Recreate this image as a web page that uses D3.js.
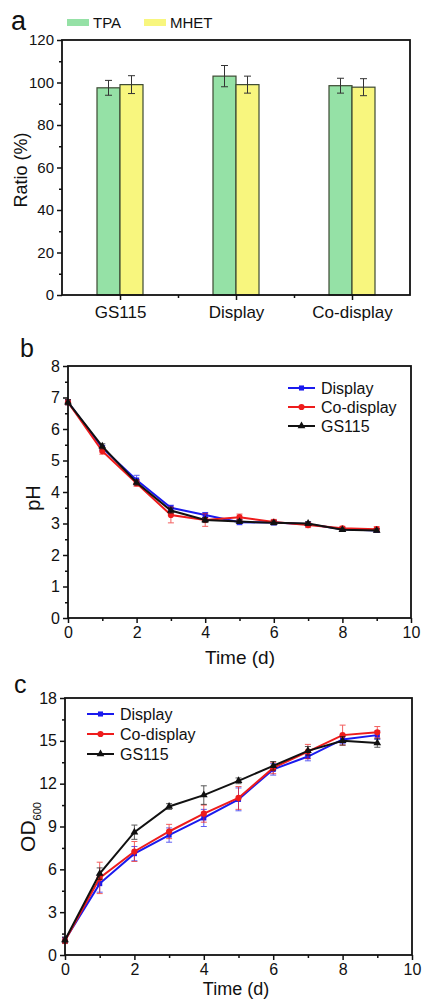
<!DOCTYPE html>
<html>
<head>
<meta charset="utf-8">
<script src="https://cdn.jsdelivr.net/npm/d3@7"></script>
<style>
  body { margin: 0; background: #fff; }
  text { font-family: "Liberation Sans", Arial, sans-serif; fill: #111; }
</style>
</head>
<body>
<div class="container"></div>
<script>
// panel a data
const categories = ["GS115", "Display", "Co-display"];
const barSeries = ["TPA", "MHET"];
const tpaValues = [97.5, 103, 98.5];
const tpaErrors = [3.5, 5, 3.5];
const mhetValues = [99, 99, 97.8];
const mhetErrors = [4.2, 4, 4];
const ratioTicks = [0, 20, 40, 60, 80, 100, 120];

// panel b / c data
const days = [0, 1, 2, 3, 4, 5, 6, 7, 8, 9];
const phDisplay = [6.85, 5.4, 4.38, 3.5, 3.27, 3.04, 3.03, 2.98, 2.82, 2.78];
const phDisplayErr = [0.08, 0.08, 0.15, 0.08, 0.08, 0.08, 0.08, 0.06, 0.06, 0.06];
const phCoDisplay = [6.85, 5.3, 4.28, 3.27, 3.11, 3.2, 3.05, 2.95, 2.85, 2.82];
const phCoDisplayErr = [0.08, 0.1, 0.1, 0.25, 0.2, 0.1, 0.08, 0.08, 0.06, 0.08];
const phGS115 = [6.85, 5.45, 4.3, 3.41, 3.11, 3.06, 3.02, 3.0, 2.8, 2.78];
const phGS115Err = [0.08, 0.08, 0.08, 0.08, 0.08, 0.06, 0.06, 0.06, 0.05, 0.05];

const odDisplay = [1.05, 5.0, 7.1, 8.4, 9.6, 10.9, 13.0, 13.9, 15.1, 15.4];
const odDisplayErr = [0.2, 0.6, 0.5, 0.5, 0.6, 0.8, 0.4, 0.3, 0.3, 0.3];
const odCoDisplay = [1.0, 5.4, 7.25, 8.65, 9.9, 11.0, 13.1, 14.25, 15.4, 15.6];
const odCoDisplayErr = [0.2, 1.1, 0.7, 0.5, 0.6, 0.8, 0.4, 0.5, 0.7, 0.4];
const odGS115 = [1.05, 5.7, 8.6, 10.4, 11.2, 12.2, 13.25, 14.3, 15.0, 14.85];
const odGS115Err = [0.2, 0.4, 0.5, 0.2, 0.65, 0.2, 0.3, 0.3, 0.3, 0.3];

const lineNames = ["Display", "Co-display", "GS115"];
const lineColors = ["#1a1aee", "#ee1c1c", "#111111"];
const lineSymbols = [d3.symbolSquare, d3.symbolCircle, d3.symbolTriangle];

const width = 422;
const height = 1001;

const svg = d3.select(".container")
  .append("svg")
  .attr("width", width)
  .attr("height", height)
  .attr("viewBox", [0, 0, width, height]);

// draws a box frame with outward ticks on left and bottom
function drawFrame(g, x, y, xTicks, xMinor, yTicks, yMinor, fs) {
  const [x0, x1] = x.range();
  const [y0, y1] = y.range();
  g.append("g")
    .attr("transform", `translate(0,${y0})`)
    .call(d3.axisBottom(x).tickValues(xMinor).tickSize(3).tickFormat(""))
    .call(a => a.select(".domain").remove());
  g.append("g")
    .attr("transform", `translate(${x0},0)`)
    .call(d3.axisLeft(y).tickValues(yMinor).tickSize(3).tickFormat(""))
    .call(a => a.select(".domain").remove());
  g.append("g")
    .attr("class", "xax")
    .attr("transform", `translate(0,${y0})`)
    .call(d3.axisBottom(x).tickValues(xTicks).tickSize(5).tickPadding(4))
    .call(a => a.select(".domain").remove())
    .attr("font-size", fs.x + "px");
  g.append("g")
    .attr("transform", `translate(${x0},0)`)
    .call(d3.axisLeft(y).tickValues(yTicks).tickSize(5).tickPadding(3))
    .call(a => a.select(".domain").remove())
    .attr("font-size", fs.y + "px");
  g.selectAll(".tick line").attr("stroke", "#111").attr("stroke-width", 1.5);
  g.selectAll("text").attr("font-family", "Liberation Sans, Arial, sans-serif").attr("fill", "#222");
  g.append("rect")
    .attr("x", x0).attr("y", y1)
    .attr("width", x1 - x0).attr("height", y0 - y1)
    .attr("fill", "none").attr("stroke", "#111").attr("stroke-width", 1.8);
}

// ---------- panel a ----------
const ga = svg.append("g");
const xA = d3.scaleBand().domain(categories).range([62, 410]).padding(0);
const xSub = d3.scaleBand().domain(barSeries).range([-23, 23]);
const yA = d3.scaleLinear().domain([0, 120]).range([295, 40]);
const barColors = { TPA: "#95e1a6", MHET: "#f8f67e" };

const barData = [];
categories.forEach((c, i) => {
  barData.push({ cat: c, s: "TPA", v: tpaValues[i], e: tpaErrors[i] });
  barData.push({ cat: c, s: "MHET", v: mhetValues[i], e: mhetErrors[i] });
});

ga.append("g").selectAll("rect")
  .data(barData)
  .join("rect")
  .attr("x", d => xA(d.cat) + xA.bandwidth() / 2 + xSub(d.s))
  .attr("y", d => yA(d.v))
  .attr("width", xSub.bandwidth())
  .attr("height", d => yA(0) - yA(d.v))
  .attr("fill", d => barColors[d.s])
  .attr("stroke", "#3d4a33")
  .attr("stroke-width", 1.2);

const errA = ga.append("g").attr("stroke", "#333").attr("stroke-width", 1);
barData.forEach(d => {
  const cx = xA(d.cat) + xA.bandwidth() / 2 + xSub(d.s) + xSub.bandwidth() / 2;
  errA.append("line").attr("x1", cx).attr("x2", cx).attr("y1", yA(d.v - d.e)).attr("y2", yA(d.v + d.e));
  errA.append("line").attr("x1", cx - 3.5).attr("x2", cx + 3.5).attr("y1", yA(d.v - d.e)).attr("y2", yA(d.v - d.e));
  errA.append("line").attr("x1", cx - 3.5).attr("x2", cx + 3.5).attr("y1", yA(d.v + d.e)).attr("y2", yA(d.v + d.e));
});

// frame for a: category ticks + minor between
const xPos = d3.scaleLinear().domain([0, 3]).range([62, 410]);
drawFrame(ga, xPos, yA, [0.5, 1.5, 2.5], [1, 2], ratioTicks, d3.range(10, 120, 20), { x: 17, y: 15 });
ga.select(".xax").selectAll(".tick text").text((d, i) => categories[i]).attr("dy", "0.85em");

ga.append("text").attr("transform", "translate(27,170) rotate(-90)")
  .attr("text-anchor", "middle").attr("font-size", 18).text("Ratio (%)");
ga.append("text").attr("x", 11).attr("y", 30).attr("font-size", 27).text("a");

const legA = ga.append("g");
barSeries.forEach((s, i) => {
  const lx = [67, 144][i];
  legA.append("rect").attr("x", lx).attr("y", 19).attr("width", 22).attr("height", 7).attr("fill", barColors[s]);
  legA.append("text").attr("x", lx + 26).attr("y", 28).attr("font-size", 15).text(s);
});

// ---------- line panels ----------
function linePanel(g, x, y, series, errs, legendPos) {
  const line = d3.line().x((d, i) => x(days[i])).y(d => y(d));
  series.forEach((vals, k) => {
    const color = lineColors[k];
    const eg = g.append("g").attr("stroke", color).attr("stroke-width", 1).attr("opacity", 0.7);
    vals.forEach((v, i) => {
      const cx = x(days[i]);
      const lo = y(v - errs[k][i]), hi = y(v + errs[k][i]);
      eg.append("line").attr("x1", cx).attr("x2", cx).attr("y1", lo).attr("y2", hi);
      eg.append("line").attr("x1", cx - 3).attr("x2", cx + 3).attr("y1", lo).attr("y2", lo);
      eg.append("line").attr("x1", cx - 3).attr("x2", cx + 3).attr("y1", hi).attr("y2", hi);
    });
    g.append("path").datum(vals).attr("d", line)
      .attr("fill", "none").attr("stroke", color).attr("stroke-width", 2);
    g.append("g").selectAll("path")
      .data(vals)
      .join("path")
      .attr("transform", (d, i) => `translate(${x(days[i])},${y(d)})`)
      .attr("d", d3.symbol().type(lineSymbols[k]).size(k === 1 ? 30 : 26))
      .attr("fill", color);
  });
  const leg = g.append("g");
  lineNames.forEach((n, k) => {
    const ly = legendPos.y + k * legendPos.dy;
    leg.append("line").attr("x1", legendPos.x).attr("x2", legendPos.x + 27)
      .attr("y1", ly).attr("y2", ly).attr("stroke", lineColors[k]).attr("stroke-width", 2);
    leg.append("path").attr("transform", `translate(${legendPos.x + 13.5},${ly})`)
      .attr("d", d3.symbol().type(lineSymbols[k]).size(k === 1 ? 30 : 26)).attr("fill", lineColors[k]);
    leg.append("text").attr("x", legendPos.x + 33).attr("y", ly + 6).attr("font-size", 16).text(n);
  });
}

// panel b
const gb = svg.append("g");
const xB = d3.scaleLinear().domain([0, 10]).range([68, 411]);
const yB = d3.scaleLinear().domain([0, 8]).range([618, 366]);
linePanel(gb, xB, yB, [phDisplay, phCoDisplay, phGS115], [phDisplayErr, phCoDisplayErr, phGS115Err], { x: 288, y: 388, dy: 19 });
drawFrame(gb, xB, yB, [0, 2, 4, 6, 8, 10], [1, 3, 5, 7, 9], d3.range(0, 9), d3.range(0.5, 8, 1), { x: 16, y: 16 });
gb.append("text").attr("x", 20).attr("y", 357).attr("font-size", 25).text("b");
gb.append("text").attr("transform", "translate(40,498) rotate(-90)")
  .attr("text-anchor", "middle").attr("font-size", 20).text("pH");
gb.append("text").attr("x", 240).attr("y", 664).attr("text-anchor", "middle").attr("font-size", 19).text("Time (d)");

// panel c
const gc = svg.append("g");
const xC = d3.scaleLinear().domain([0, 10]).range([65, 412]);
const yC = d3.scaleLinear().domain([0, 18]).range([955, 698]);
linePanel(gc, xC, yC, [odDisplay, odCoDisplay, odGS115], [odDisplayErr, odCoDisplayErr, odGS115Err], { x: 87, y: 714, dy: 20 });
drawFrame(gc, xC, yC, [0, 2, 4, 6, 8, 10], [1, 3, 5, 7, 9], d3.range(0, 19, 3), d3.range(1.5, 18, 3), { x: 16, y: 16 });
gc.append("text").attr("x", 14).attr("y", 693).attr("font-size", 25).text("c");
const odLabel = gc.append("text").attr("transform", "translate(35,827) rotate(-90)")
  .attr("text-anchor", "middle").attr("font-size", 21);
odLabel.append("tspan").text("OD");
odLabel.append("tspan").attr("font-size", 11).attr("dy", 6).text("600");
gc.append("text").attr("x", 236).attr("y", 995).attr("text-anchor", "middle").attr("font-size", 18).text("Time (d)");
</script>
</body>
</html>
